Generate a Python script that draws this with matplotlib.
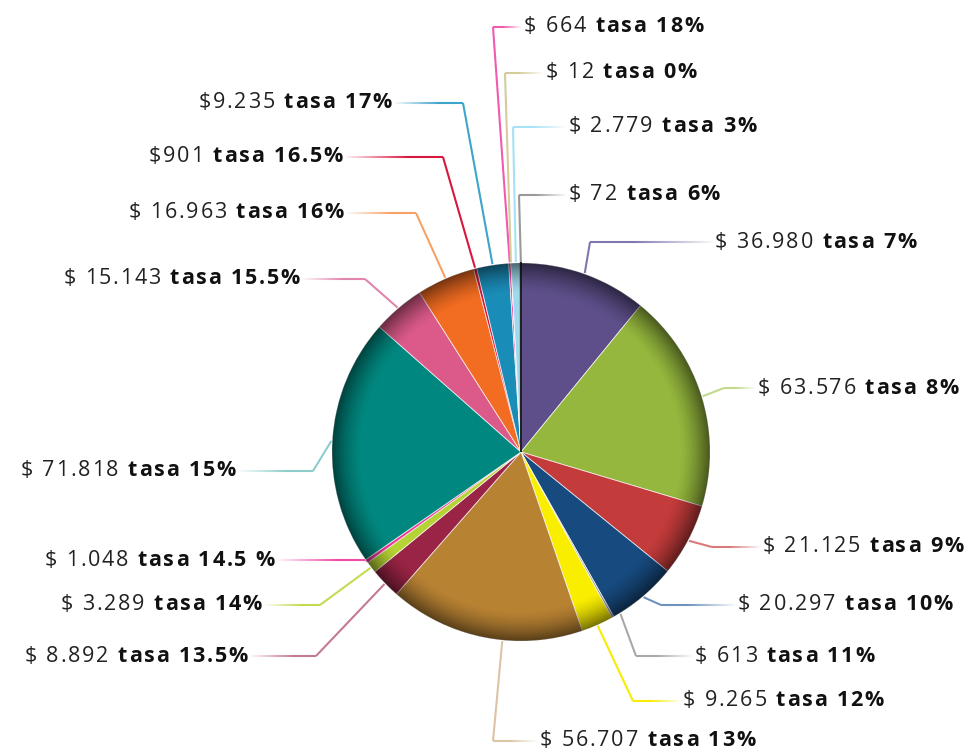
import numpy as np
import matplotlib
matplotlib.use("Agg")
import matplotlib.pyplot as plt
from matplotlib.collections import LineCollection
from matplotlib.patches import Circle
from matplotlib.offsetbox import TextArea, HPacker, AnnotationBbox

# ---------------- data (clockwise from 12 o'clock) ----------------
amounts = [36980, 63576, 21125, 20297, 613, 9265, 56707, 8892, 3289, 1048,
           71818, 15143, 16963, 901, 9235, 664, 12, 2779, 72]
amount_labels = ["$ 36.980", "$ 63.576", "$ 21.125", "$ 20.297", "$ 613", "$ 9.265",
                 "$ 56.707", "$ 8.892", "$ 3.289", "$ 1.048", "$ 71.818", "$ 15.143",
                 "$ 16.963", "$901", "$9.235", "$ 664", "$ 12", "$ 2.779", "$ 72"]
rate_labels = ["tasa 7%", "tasa 8%", "tasa 9%", "tasa 10%", "tasa 11%", "tasa 12%",
               "tasa 13%", "tasa 13.5%", "tasa 14%", "tasa 14.5 %", "tasa 15%",
               "tasa 15.5%", "tasa 16%", "tasa 16.5%", "tasa 17%", "tasa 18%",
               "tasa 0%", "tasa 3%", "tasa 6%"]

slice_colors = ["#5E4F8A", "#95B73D", "#C33B3B", "#174A7E", "#9A9A9A", "#F9EE00",
                "#B88233", "#9A2445", "#B5D334", "#EE3A96", "#008880", "#DC5A8A",
                "#F26C21", "#D8173F", "#1A8CB8", "#EE4FA5", "#CFC48E", "#9ED9EC", "#222222"]
line_colors = ["#8276B0", "#C2DA8A", "#D97A7A", "#6F91BE", "#A8A8A8", "#F8EC00",
               "#DCC5A5", "#C57A93", "#C3DB52", "#F04DA8", "#8DCDCB", "#E285AC",
               "#F7A166", "#D8173F", "#3DA4CC", "#F25AAE", "#D5CC9A", "#A6E1F5", "#999999"]

# ---------------- layout (image pixel coords, y down) ----------------
W, H = 968, 752
CX, CY, R = 521, 452, 189
# elbow x, elbow y, text x, side ('R' = text to the right of the elbow)
layout = [
    (590, 242, 715, 'R'), (724, 388, 758, 'R'), (712, 547, 763, 'R'),
    (661, 605, 738, 'R'), (636, 656, 695, 'R'), (633, 701, 683, 'R'),
    (493, 741, 540, 'R'), (316, 656, 248, 'L'), (320, 605, 262, 'L'),
    (368, 560, 275, 'L'), (313, 471, 236, 'L'), (365, 279, 300, 'L'),
    (416, 213, 344, 'L'), (443, 157, 343, 'L'), (463, 103, 392, 'L'),
    (493, 27, 524, 'R'), (505, 73, 546, 'R'), (513, 127, 569, 'R'),
    (519, 195, 569, 'R'),
]
# optional leader anchor angle offsets (degrees) where the leader leaves the pie off-centre
anchor_shift = {6: -5.5, 4: -2.5}

FONT = "Open Sans"
FS = 15.5
TRACK = 1.3  # letter spacing (points)


def P(x, y):
    return (x, H - y)


fig = plt.figure(figsize=(W / 100, H / 100), dpi=100)
ax = fig.add_axes([0, 0, 1, 1])

cx, cy = P(CX, CY)
wedges, _ = ax.pie(amounts, colors=slice_colors, startangle=90, counterclock=False,
                   center=(cx, cy), radius=R,
                   wedgeprops=dict(edgecolor=(1, 1, 1, 0.75), linewidth=0.6))
for w in wedges:
    w.set_zorder(2)
wedges[-1].set_edgecolor("#222222")
wedges[-1].set_linewidth(1.4)

# rim shading (3D look)
n = 600
xs = np.linspace(-1, 1, n)
XX, YY = np.meshgrid(xs, xs)
rr = np.sqrt(XX ** 2 + YY ** 2)
alpha = 0.52 * np.clip((rr - 0.84) / 0.16, 0, 1) ** 1.5
img = np.zeros((n, n, 4))
img[..., 3] = alpha
im = ax.imshow(img, extent=[cx - R, cx + R, cy - R, cy + R], origin="lower",
               zorder=3, interpolation="bilinear")
clip = Circle((cx, cy), R, transform=ax.transData)
im.set_clip_path(clip)

# leader lines + labels
total = float(sum(amounts))
cum = np.cumsum([0] + amounts)
for i, (ex, ey, tx, side) in enumerate(layout):
    mid = 360.0 * (cum[i] + amounts[i] / 2.0) / total + anchor_shift.get(i, 0.0)
    th = np.deg2rad(mid)
    ax_, ay_ = CX + R * 1.005 * np.sin(th), CY - R * 1.005 * np.cos(th)
    col = matplotlib.colors.to_rgb(line_colors[i])
    segs = [[P(ax_, ay_), P(ex, ey)]]
    cols = [col + (1.0,)]
    endx = tx - 3 if side == 'R' else tx + 3
    N = 30
    xsg = np.linspace(ex, endx, N + 1)
    for k in range(N):
        t = (k + 0.5) / N
        a = 1.0 if t < 0.35 else max(0.05, 1 - (t - 0.35) / 0.65 * 0.95)
        segs.append([P(xsg[k], ey), P(xsg[k + 1], ey)])
        cols.append(col + (a,))
    lc = LineCollection(segs, colors=cols, linewidths=1.5, zorder=1.5,
                        capstyle="butt", joinstyle="miter")
    ax.add_collection(lc)

    children = []
    for ch in amount_labels[i] + " ":
        children.append(TextArea(ch, textprops=dict(family=FONT, fontsize=FS,
                                                    color="#222222", weight="normal")))
    for ch in rate_labels[i]:
        children.append(TextArea(ch, textprops=dict(family=FONT, fontsize=FS,
                                                    color="#111111", weight="bold")))
    pack = HPacker(children=children, sep=TRACK, pad=0, align="baseline")
    ab = AnnotationBbox(pack, P(tx, ey), xycoords="data",
                        box_alignment=(0 if side == 'R' else 1, 0.5),
                        frameon=False, pad=0, zorder=4)
    ax.add_artist(ab)

ax.set_xlim(0, W)
ax.set_ylim(0, H)
ax.set_aspect("auto")
ax.axis("off")
fig.savefig("out.png", dpi=100, facecolor="white")
